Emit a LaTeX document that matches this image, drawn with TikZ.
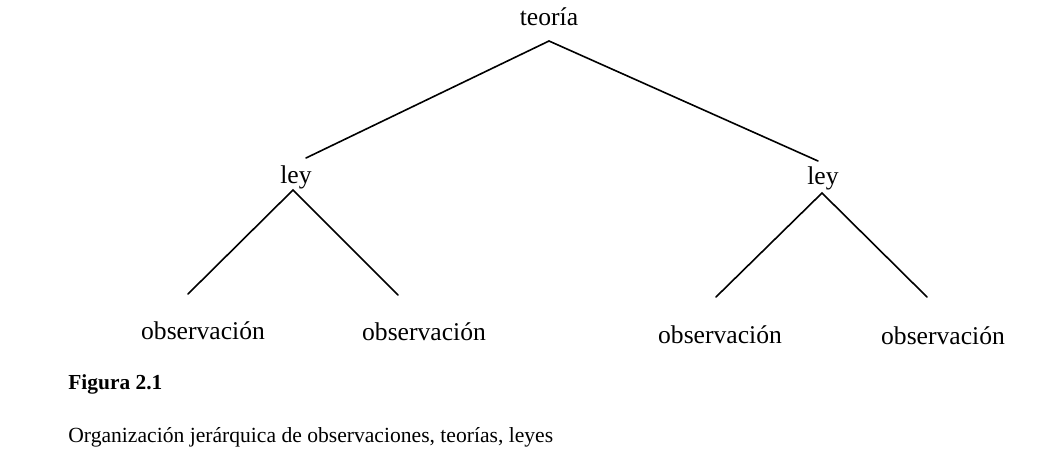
\documentclass[tikz,border=0pt]{standalone}
\usepackage{fontspec}
\setmainfont{Liberation Serif}
\begin{document}
\begin{tikzpicture}[x=0.5pt,y=-0.5pt,
  lbl/.style={inner sep=0pt,font=\fontsize{12.8}{14}\selectfont},
  edge/.style={line width=0.8pt,line cap=round}]
\path[fill=white] (0,0) rectangle (1055,465);
\useasboundingbox (0,0) rectangle (1055,465);
\node[lbl] (teoria) at (549,17) {teoría};
\node[lbl] (leyL) at (296,177) {ley};
\node[lbl] (leyR) at (823,178) {ley};
\node[lbl] (o1) at (203,331) {observación};
\node[lbl] (o2) at (424,332) {observación};
\node[lbl] (o3) at (720,335) {observación};
\node[lbl] (o4) at (943,336) {observación};
\coordinate (aT) at (549,41);
\coordinate (eL) at (306,158);
\coordinate (eR) at (818,161);
\coordinate (aL) at (293,190);
\coordinate (e1) at (188,294);
\coordinate (e2) at (398,295);
\coordinate (aR) at (822,193);
\coordinate (e3) at (716,297);
\coordinate (e4) at (927,297);
\draw[edge] (eL) -- (aT) -- (eR);
\draw[edge] (e1) -- (aL) -- (e2);
\draw[edge] (e3) -- (aR) -- (e4);
\node[anchor=west,inner sep=0pt,font=\fontsize{10.7}{12}\selectfont\bfseries] (fig) at (68,384) {Figura 2.1};
\node[anchor=west,inner sep=0pt,font=\fontsize{10.8}{12}\selectfont] (cap) at (68,437) {Organización jerárquica de observaciones, teorías, leyes};
\end{tikzpicture}
\end{document}
